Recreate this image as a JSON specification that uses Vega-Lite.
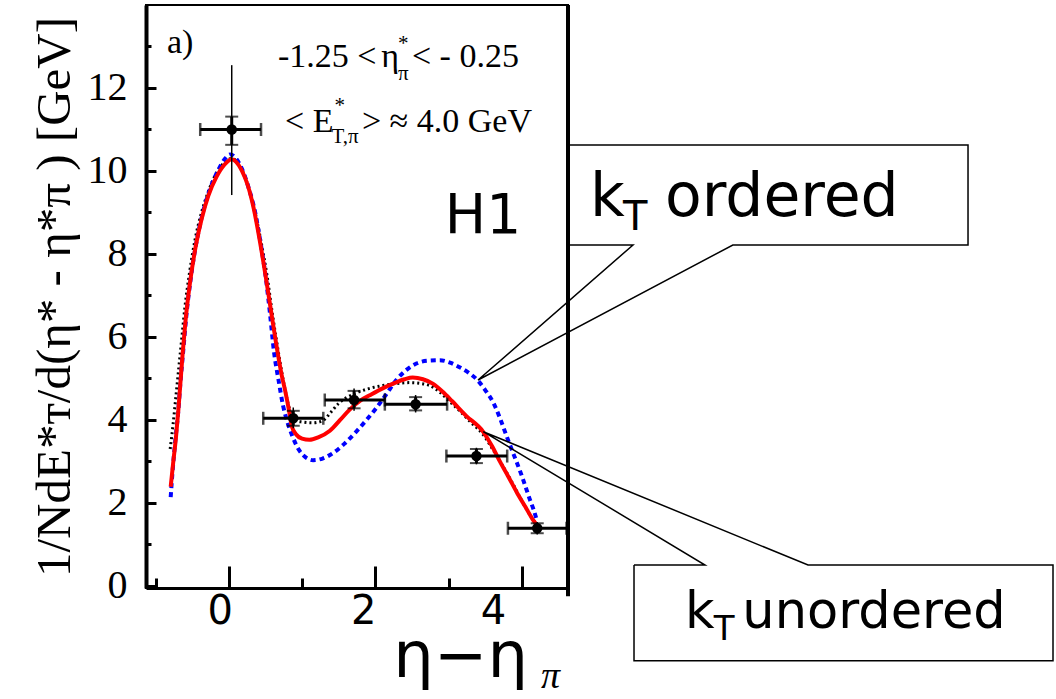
{
 "$schema": "https://vega.github.io/schema/vega-lite/v6.json",
 "width": 422, "height": 583,
 "autosize": {"type": "none"},
 "padding": {"left": 146, "top": 5, "right": 488, "bottom": 111},
 "background": "white",
 "config": {"view": {"stroke": "black", "strokeWidth": 2}, "axis": {"grid": false}},
 "datasets": {
  "curves": [
   {"m":"dot","x":-0.80,"y":3.3},{"m":"dot","x":-0.76,"y":3.9},{"m":"dot","x":-0.72,"y":4.6},{"m":"dot","x":-0.68,"y":5.3},{"m":"dot","x":-0.64,"y":6.0},{"m":"dot","x":-0.60,"y":6.7},{"m":"dot","x":-0.54,"y":7.5},{"m":"dot","x":-0.46,"y":8.35},{"m":"dot","x":-0.38,"y":8.95},{"m":"dot","x":-0.28,"y":9.5},{"m":"dot","x":-0.17,"y":9.95},{"m":"dot","x":-0.06,"y":10.2},{"m":"dot","x":0.04,"y":10.3},{"m":"dot","x":0.12,"y":10.2},{"m":"dot","x":0.2,"y":9.95},{"m":"dot","x":0.28,"y":9.55},{"m":"dot","x":0.36,"y":9.0},{"m":"dot","x":0.44,"y":8.3},{"m":"dot","x":0.52,"y":7.5},{"m":"dot","x":0.60,"y":6.5},{"m":"dot","x":0.68,"y":5.6},{"m":"dot","x":0.76,"y":4.8},{"m":"dot","x":0.84,"y":4.2},{"m":"dot","x":0.92,"y":3.98},{"m":"dot","x":1.0,"y":3.95},{"m":"dot","x":1.15,"y":3.93},{"m":"dot","x":1.28,"y":3.98},{"m":"dot","x":1.40,"y":4.2},{"m":"dot","x":1.50,"y":4.4},{"m":"dot","x":1.62,"y":4.55},{"m":"dot","x":1.74,"y":4.65},{"m":"dot","x":1.9,"y":4.75},{"m":"dot","x":2.1,"y":4.83},{"m":"dot","x":2.3,"y":4.88},{"m":"dot","x":2.47,"y":4.9},{"m":"dot","x":2.62,"y":4.88},{"m":"dot","x":2.74,"y":4.83},{"m":"dot","x":2.88,"y":4.67},{"m":"dot","x":3.0,"y":4.47},{"m":"dot","x":3.15,"y":4.22},{"m":"dot","x":3.3,"y":3.95},{"m":"dot","x":3.47,"y":3.65},{"m":"dot","x":3.6,"y":3.3},{"m":"dot","x":3.72,"y":2.95},{"m":"dot","x":3.85,"y":2.55},{"m":"dot","x":3.97,"y":2.15},{"m":"dot","x":4.08,"y":1.8},{"m":"dot","x":4.2,"y":1.48},
   {"m":"ord","x":-0.793,"y":2.14},{"m":"ord","x":-0.77,"y":2.7},{"m":"ord","x":-0.73,"y":3.5},{"m":"ord","x":-0.69,"y":4.2},{"m":"ord","x":-0.66,"y":4.9},{"m":"ord","x":-0.62,"y":5.7},{"m":"ord","x":-0.58,"y":6.5},{"m":"ord","x":-0.52,"y":7.4},{"m":"ord","x":-0.45,"y":8.2},{"m":"ord","x":-0.36,"y":8.95},{"m":"ord","x":-0.26,"y":9.55},{"m":"ord","x":-0.15,"y":10.0},{"m":"ord","x":-0.05,"y":10.3},{"m":"ord","x":0.02,"y":10.4},{"m":"ord","x":0.10,"y":10.3},{"m":"ord","x":0.18,"y":10.05},{"m":"ord","x":0.27,"y":9.6},{"m":"ord","x":0.36,"y":9.0},{"m":"ord","x":0.44,"y":8.2},{"m":"ord","x":0.50,"y":7.5},{"m":"ord","x":0.56,"y":6.6},{"m":"ord","x":0.62,"y":5.6},{"m":"ord","x":0.68,"y":4.95},{"m":"ord","x":0.74,"y":4.35},{"m":"ord","x":0.80,"y":3.95},{"m":"ord","x":0.87,"y":3.6},{"m":"ord","x":0.95,"y":3.3},{"m":"ord","x":1.05,"y":3.1},{"m":"ord","x":1.15,"y":3.03},{"m":"ord","x":1.28,"y":3.07},{"m":"ord","x":1.42,"y":3.2},{"m":"ord","x":1.58,"y":3.43},{"m":"ord","x":1.74,"y":3.72},{"m":"ord","x":1.88,"y":4.0},{"m":"ord","x":2.01,"y":4.28},{"m":"ord","x":2.15,"y":4.62},{"m":"ord","x":2.29,"y":4.97},{"m":"ord","x":2.42,"y":5.2},{"m":"ord","x":2.56,"y":5.36},{"m":"ord","x":2.72,"y":5.43},{"m":"ord","x":2.88,"y":5.44},{"m":"ord","x":3.02,"y":5.38},{"m":"ord","x":3.15,"y":5.27},{"m":"ord","x":3.28,"y":5.13},{"m":"ord","x":3.40,"y":4.95},{"m":"ord","x":3.50,"y":4.72},{"m":"ord","x":3.61,"y":4.42},{"m":"ord","x":3.70,"y":4.05},{"m":"ord","x":3.79,"y":3.62},{"m":"ord","x":3.87,"y":3.25},{"m":"ord","x":3.93,"y":2.98},{"m":"ord","x":4.00,"y":2.65},{"m":"ord","x":4.06,"y":2.34},{"m":"ord","x":4.11,"y":2.08},{"m":"ord","x":4.16,"y":1.84},{"m":"ord","x":4.21,"y":1.55},
   {"m":"unord","x":-0.793,"y":2.39},{"m":"unord","x":-0.76,"y":2.95},{"m":"unord","x":-0.72,"y":3.6},{"m":"unord","x":-0.69,"y":4.2},{"m":"unord","x":-0.66,"y":4.9},{"m":"unord","x":-0.63,"y":5.6},{"m":"unord","x":-0.59,"y":6.4},{"m":"unord","x":-0.53,"y":7.3},{"m":"unord","x":-0.45,"y":8.2},{"m":"unord","x":-0.37,"y":8.85},{"m":"unord","x":-0.28,"y":9.4},{"m":"unord","x":-0.17,"y":9.85},{"m":"unord","x":-0.06,"y":10.15},{"m":"unord","x":0.04,"y":10.28},{"m":"unord","x":0.10,"y":10.22},{"m":"unord","x":0.18,"y":10.0},{"m":"unord","x":0.26,"y":9.65},{"m":"unord","x":0.34,"y":9.1},{"m":"unord","x":0.42,"y":8.35},{"m":"unord","x":0.50,"y":7.5},{"m":"unord","x":0.57,"y":6.7},{"m":"unord","x":0.65,"y":5.8},{"m":"unord","x":0.72,"y":5.1},{"m":"unord","x":0.77,"y":4.7},{"m":"unord","x":0.82,"y":4.25},{"m":"unord","x":0.86,"y":3.85},{"m":"unord","x":0.92,"y":3.65},{"m":"unord","x":1.0,"y":3.55},{"m":"unord","x":1.10,"y":3.52},{"m":"unord","x":1.22,"y":3.58},{"m":"unord","x":1.38,"y":3.74},{"m":"unord","x":1.52,"y":4.0},{"m":"unord","x":1.65,"y":4.25},{"m":"unord","x":1.80,"y":4.47},{"m":"unord","x":1.95,"y":4.62},{"m":"unord","x":2.10,"y":4.76},{"m":"unord","x":2.25,"y":4.88},{"m":"unord","x":2.40,"y":4.98},{"m":"unord","x":2.51,"y":5.02},{"m":"unord","x":2.65,"y":4.98},{"m":"unord","x":2.79,"y":4.87},{"m":"unord","x":2.92,"y":4.68},{"m":"unord","x":3.05,"y":4.45},{"m":"unord","x":3.24,"y":4.1},{"m":"unord","x":3.47,"y":3.72},{"m":"unord","x":3.60,"y":3.35},{"m":"unord","x":3.70,"y":3.0},{"m":"unord","x":3.82,"y":2.62},{"m":"unord","x":3.93,"y":2.26},{"m":"unord","x":4.05,"y":1.9},{"m":"unord","x":4.15,"y":1.6},{"m":"unord","x":4.21,"y":1.46}
  ],
  "points": [
   {"x":0.04,"y":11.0,"xlo":-0.39,"xhi":0.44,"slo":10.63,"shi":11.31,"tlo":9.42,"thi":12.55},
   {"x":0.88,"y":4.04,"xlo":0.47,"xhi":1.29,"slo":3.86,"shi":4.22,"tlo":3.8,"thi":4.3},
   {"x":1.71,"y":4.48,"xlo":1.31,"xhi":2.13,"slo":4.28,"shi":4.7,"tlo":4.22,"thi":4.76},
   {"x":2.55,"y":4.38,"xlo":2.13,"xhi":2.98,"slo":4.23,"shi":4.55,"tlo":4.18,"thi":4.6},
   {"x":3.38,"y":3.13,"xlo":2.97,"xhi":3.80,"slo":2.96,"shi":3.3,"tlo":2.93,"thi":3.33},
   {"x":4.21,"y":1.39,"xlo":3.81,"xhi":4.61,"slo":1.27,"shi":1.51,"tlo":1.24,"thi":1.54}
  ],
  "callouts": [
   {"s":"a","o":1,"x":4.617,"y":10.627},{"s":"a","o":2,"x":10.09,"y":10.627},{"s":"a","o":3,"x":10.09,"y":8.216},{"s":"a","o":4,"x":6.88,"y":8.216},{"s":"a","o":5,"x":3.402,"y":4.963},{"s":"a","o":6,"x":5.517,"y":8.216},{"s":"a","o":7,"x":4.617,"y":8.216},{"s":"a","o":8,"x":4.617,"y":10.627},
   {"s":"b","o":1,"x":5.531,"y":0.504},{"s":"b","o":2,"x":6.5,"y":0.504},{"s":"b","o":3,"x":3.474,"y":3.717},{"s":"b","o":4,"x":7.906,"y":0.504},{"s":"b","o":5,"x":11.25,"y":0.504},{"s":"b","o":6,"x":11.25,"y":-1.803},{"s":"b","o":7,"x":5.531,"y":-1.803},{"s":"b","o":8,"x":5.531,"y":0.504}
  ],
  "texts": [
   {"k":"serif","x":-0.844,"y":12.84,"t":"a)"},
   {"k":"serif","x":0.672,"y":12.51,"t":"-1.25 <"},
   {"k":"serif","x":2.08,"y":12.51,"t":"η"},
   {"k":"serifsmall","x":2.31,"y":12.92,"t":"*"},
   {"k":"serifsmall","x":2.31,"y":12.19,"t":"π"},
   {"k":"serif","x":2.50,"y":12.51,"t":"< - 0.25"},
   {"k":"serif","x":0.767,"y":10.94,"t":"< E"},
   {"k":"serifsmall","x":1.442,"y":11.42,"t":"*"},
   {"k":"serifsmall","x":1.401,"y":10.68,"t":"T,π"},
   {"k":"serif","x":1.817,"y":10.94,"t":"> ≈ 4.0 GeV"},
   {"k":"big","x":4.93,"y":8.915,"t":"k"},
   {"k":"sub","x":5.381,"y":8.578,"t":"T"},
   {"k":"big","x":5.954,"y":8.915,"t":"ordered"},
   {"k":"mid","x":6.227,"y":-1.015,"t":"k"},
   {"k":"sub2","x":6.62,"y":-1.304,"t":"T"},
   {"k":"mid","x":7.01,"y":-1.015,"t":"unordered"},
   {"k":"eta","x":2.244,"y":-2.2,"t":"η−η"},
   {"k":"pi","x":4.26,"y":-2.47,"t":"π"}
  ]
 },
 "layer": [
  {
   "data": {"name": "curves"},
   "transform": [{"filter": "datum.m === 'dot'"}],
   "mark": {"type": "line", "color": "black", "strokeWidth": 3, "strokeDash": [2, 3], "interpolate": "monotone"},
   "encoding": {
    "x": {"field": "x", "type": "quantitative", "title": null, "scale": {"domain": [-1.13, 4.63], "nice": false, "zero": false},
     "axis": {"orient": "bottom", "values": [-1, -0.5, 0, 0.5, 1, 1.5, 2, 2.5, 3, 3.5, 4, 4.5],
      "tickSize": {"condition": {"test": "datum.value % 2 === 0", "value": -22}, "value": -10},
      "tickWidth": 3, "tickColor": "black", "domainWidth": 3, "domainColor": "black",
      "labelExpr": "datum.value % 2 === 0 ? '' + datum.value : ''",
      "labelFont": "DejaVu Sans", "labelFontSize": 40, "labelColor": "black",
      "labelOffset": {"condition": [{"test": "datum.value === 4", "value": -29}, {"test": "datum.value === 2", "value": -12}], "value": -9},
      "labelPadding": 25, "labelBaseline": "top", "labelFlush": false, "labelOverlap": false, "title": null}},
    "y": {"field": "y", "type": "quantitative", "scale": {"domain": [-0.05, 14], "nice": false, "zero": false},
     "axis": {"orient": "left", "values": [0, 0.5, 1, 1.5, 2, 2.5, 3, 3.5, 4, 4.5, 5, 5.5, 6, 6.5, 7, 7.5, 8, 8.5, 9, 9.5, 10, 10.5, 11, 11.5, 12, 12.5, 13, 13.5],
      "tickSize": {"condition": {"test": "datum.value % 2 === 0", "value": -10}, "value": -5},
      "tickWidth": 3, "tickColor": "black", "domainWidth": 4, "domainColor": "black",
      "labelExpr": "datum.value % 2 === 0 ? '' + datum.value : ''",
      "labelFont": "Liberation Serif", "labelFontSize": 40, "labelColor": "black",
      "labelPadding": 29, "labelFlush": false, "labelOverlap": false,
      "title": "1/NdE*ᴛ/d(η* - η*π ) [GeV]", "titleFont": "Liberation Serif", "titleFontSize": 49, "titleFontWeight": "normal", "titleColor": "black", "titlePadding": 8}}
   }
  },
  {
   "data": {"name": "curves"},
   "transform": [{"filter": "datum.m === 'ord'"}],
   "mark": {"type": "line", "color": "#0000ff", "strokeWidth": 4, "strokeDash": [5, 4], "interpolate": "monotone"},
   "encoding": {
    "x": {"field": "x", "type": "quantitative", "scale": {"domain": [-1.13, 4.63], "nice": false, "zero": false}},
    "y": {"field": "y", "type": "quantitative", "scale": {"domain": [-0.05, 14], "nice": false, "zero": false}}
   }
  },
  {
   "data": {"name": "curves"},
   "transform": [{"filter": "datum.m === 'unord'"}],
   "mark": {"type": "line", "color": "#ff0000", "strokeWidth": 4, "interpolate": "monotone"},
   "encoding": {
    "x": {"field": "x", "type": "quantitative", "scale": {"domain": [-1.13, 4.63], "nice": false, "zero": false}},
    "y": {"field": "y", "type": "quantitative", "scale": {"domain": [-0.05, 14], "nice": false, "zero": false}}
   }
  },
  {
   "data": {"name": "points"},
   "mark": {"type": "rule", "color": "black", "strokeWidth": 3},
   "encoding": {
    "x": {"field": "xlo", "type": "quantitative", "scale": {"domain": [-1.13, 4.63], "nice": false, "zero": false}},
    "x2": {"field": "xhi"},
    "y": {"field": "y", "type": "quantitative", "scale": {"domain": [-0.05, 14], "nice": false, "zero": false}}
   }
  },
  {
   "data": {"name": "points"},
   "mark": {"type": "tick", "orient": "vertical", "color": "black", "size": 13, "thickness": 2.5},
   "encoding": {
    "x": {"field": "xlo", "type": "quantitative", "scale": {"domain": [-1.13, 4.63], "nice": false, "zero": false}},
    "y": {"field": "y", "type": "quantitative", "scale": {"domain": [-0.05, 14], "nice": false, "zero": false}}
   }
  },
  {
   "data": {"name": "points"},
   "mark": {"type": "tick", "orient": "vertical", "color": "black", "size": 13, "thickness": 2.5},
   "encoding": {
    "x": {"field": "xhi", "type": "quantitative", "scale": {"domain": [-1.13, 4.63], "nice": false, "zero": false}},
    "y": {"field": "y", "type": "quantitative", "scale": {"domain": [-0.05, 14], "nice": false, "zero": false}}
   }
  },
  {
   "data": {"name": "points"},
   "mark": {"type": "rule", "color": "black", "strokeWidth": 1.5},
   "encoding": {
    "x": {"field": "x", "type": "quantitative", "scale": {"domain": [-1.13, 4.63], "nice": false, "zero": false}},
    "y": {"field": "tlo", "type": "quantitative", "scale": {"domain": [-0.05, 14], "nice": false, "zero": false}},
    "y2": {"field": "thi"}
   }
  },
  {
   "data": {"name": "points"},
   "mark": {"type": "rule", "color": "black", "strokeWidth": 3},
   "encoding": {
    "x": {"field": "x", "type": "quantitative", "scale": {"domain": [-1.13, 4.63], "nice": false, "zero": false}},
    "y": {"field": "slo", "type": "quantitative", "scale": {"domain": [-0.05, 14], "nice": false, "zero": false}},
    "y2": {"field": "shi"}
   }
  },
  {
   "data": {"name": "points"},
   "mark": {"type": "tick", "orient": "horizontal", "color": "black", "size": 13, "thickness": 2},
   "encoding": {
    "x": {"field": "x", "type": "quantitative", "scale": {"domain": [-1.13, 4.63], "nice": false, "zero": false}},
    "y": {"field": "slo", "type": "quantitative", "scale": {"domain": [-0.05, 14], "nice": false, "zero": false}}
   }
  },
  {
   "data": {"name": "points"},
   "mark": {"type": "tick", "orient": "horizontal", "color": "black", "size": 13, "thickness": 2},
   "encoding": {
    "x": {"field": "x", "type": "quantitative", "scale": {"domain": [-1.13, 4.63], "nice": false, "zero": false}},
    "y": {"field": "shi", "type": "quantitative", "scale": {"domain": [-0.05, 14], "nice": false, "zero": false}}
   }
  },
  {
   "data": {"name": "points"},
   "mark": {"type": "point", "filled": true, "color": "black", "opacity": 1, "size": 110},
   "encoding": {
    "x": {"field": "x", "type": "quantitative", "scale": {"domain": [-1.13, 4.63], "nice": false, "zero": false}},
    "y": {"field": "y", "type": "quantitative", "scale": {"domain": [-0.05, 14], "nice": false, "zero": false}}
   }
  },
  {
   "data": {"values": [{}]},
   "mark": {"type": "rule", "color": "black", "strokeWidth": 4},
   "encoding": {
    "x": {"datum": 4.63, "type": "quantitative", "scale": {"domain": [-1.13, 4.63], "nice": false, "zero": false}},
    "y": {"datum": -0.25, "type": "quantitative", "scale": {"domain": [-0.05, 14], "nice": false, "zero": false}},
    "y2": {"datum": 14}
   }
  },
  {
   "data": {"name": "callouts"},
   "mark": {"type": "line", "color": "black", "strokeWidth": 1.5, "clip": false},
   "encoding": {
    "x": {"field": "x", "type": "quantitative", "scale": {"domain": [-1.13, 4.63], "nice": false, "zero": false}},
    "y": {"field": "y", "type": "quantitative", "scale": {"domain": [-0.05, 14], "nice": false, "zero": false}},
    "detail": {"field": "s"},
    "order": {"field": "o", "type": "quantitative"}
   }
  },
  {
   "data": {"name": "texts"},
   "transform": [{"filter": "datum.k === 'serif'"}],
   "mark": {"type": "text", "align": "left", "baseline": "alphabetic", "font": "Liberation Serif", "fontSize": 34, "color": "black"},
   "encoding": {
    "x": {"field": "x", "type": "quantitative", "scale": {"domain": [-1.13, 4.63], "nice": false, "zero": false}},
    "y": {"field": "y", "type": "quantitative", "scale": {"domain": [-0.05, 14], "nice": false, "zero": false}},
    "text": {"field": "t"}
   }
  },
  {
   "data": {"name": "texts"},
   "transform": [{"filter": "datum.k === 'serifsmall'"}],
   "mark": {"type": "text", "align": "left", "baseline": "alphabetic", "font": "Liberation Serif", "fontSize": 21, "color": "black"},
   "encoding": {
    "x": {"field": "x", "type": "quantitative", "scale": {"domain": [-1.13, 4.63], "nice": false, "zero": false}},
    "y": {"field": "y", "type": "quantitative", "scale": {"domain": [-0.05, 14], "nice": false, "zero": false}},
    "text": {"field": "t"}
   }
  },
  {
   "data": {"values": [{"x": 3.47, "y": 8.505, "t": "H1"}]},
   "mark": {"type": "text", "align": "center", "baseline": "alphabetic", "font": "DejaVu Sans", "fontSize": 55, "color": "black"},
   "encoding": {
    "x": {"field": "x", "type": "quantitative", "scale": {"domain": [-1.13, 4.63], "nice": false, "zero": false}},
    "y": {"field": "y", "type": "quantitative", "scale": {"domain": [-0.05, 14], "nice": false, "zero": false}},
    "text": {"field": "t"}
   }
  },
  {
   "data": {"name": "texts"},
   "transform": [{"filter": "datum.k === 'big'"}],
   "mark": {"type": "text", "align": "left", "baseline": "alphabetic", "font": "DejaVu Sans", "fontSize": 60, "color": "black"},
   "encoding": {
    "x": {"field": "x", "type": "quantitative", "scale": {"domain": [-1.13, 4.63], "nice": false, "zero": false}},
    "y": {"field": "y", "type": "quantitative", "scale": {"domain": [-0.05, 14], "nice": false, "zero": false}},
    "text": {"field": "t"}
   }
  },
  {
   "data": {"name": "texts"},
   "transform": [{"filter": "datum.k === 'sub'"}],
   "mark": {"type": "text", "align": "left", "baseline": "alphabetic", "font": "DejaVu Sans", "fontSize": 40, "color": "black"},
   "encoding": {
    "x": {"field": "x", "type": "quantitative", "scale": {"domain": [-1.13, 4.63], "nice": false, "zero": false}},
    "y": {"field": "y", "type": "quantitative", "scale": {"domain": [-0.05, 14], "nice": false, "zero": false}},
    "text": {"field": "t"}
   }
  },
  {
   "data": {"name": "texts"},
   "transform": [{"filter": "datum.k === 'mid'"}],
   "mark": {"type": "text", "align": "left", "baseline": "alphabetic", "font": "DejaVu Sans", "fontSize": 51, "color": "black"},
   "encoding": {
    "x": {"field": "x", "type": "quantitative", "scale": {"domain": [-1.13, 4.63], "nice": false, "zero": false}},
    "y": {"field": "y", "type": "quantitative", "scale": {"domain": [-0.05, 14], "nice": false, "zero": false}},
    "text": {"field": "t"}
   }
  },
  {
   "data": {"name": "texts"},
   "transform": [{"filter": "datum.k === 'sub2'"}],
   "mark": {"type": "text", "align": "left", "baseline": "alphabetic", "font": "DejaVu Sans", "fontSize": 34, "color": "black"},
   "encoding": {
    "x": {"field": "x", "type": "quantitative", "scale": {"domain": [-1.13, 4.63], "nice": false, "zero": false}},
    "y": {"field": "y", "type": "quantitative", "scale": {"domain": [-0.05, 14], "nice": false, "zero": false}},
    "text": {"field": "t"}
   }
  },
  {
   "data": {"name": "texts"},
   "transform": [{"filter": "datum.k === 'eta'"}],
   "mark": {"type": "text", "align": "left", "baseline": "alphabetic", "font": "DejaVu Sans", "fontSize": 64, "color": "black"},
   "encoding": {
    "x": {"field": "x", "type": "quantitative", "scale": {"domain": [-1.13, 4.63], "nice": false, "zero": false}},
    "y": {"field": "y", "type": "quantitative", "scale": {"domain": [-0.05, 14], "nice": false, "zero": false}},
    "text": {"field": "t"}
   }
  },
  {
   "data": {"name": "texts"},
   "transform": [{"filter": "datum.k === 'pi'"}],
   "mark": {"type": "text", "align": "left", "baseline": "alphabetic", "font": "Liberation Serif", "fontStyle": "italic", "fontSize": 38, "color": "black"},
   "encoding": {
    "x": {"field": "x", "type": "quantitative", "scale": {"domain": [-1.13, 4.63], "nice": false, "zero": false}},
    "y": {"field": "y", "type": "quantitative", "scale": {"domain": [-0.05, 14], "nice": false, "zero": false}},
    "text": {"field": "t"}
   }
  }
 ]
}
